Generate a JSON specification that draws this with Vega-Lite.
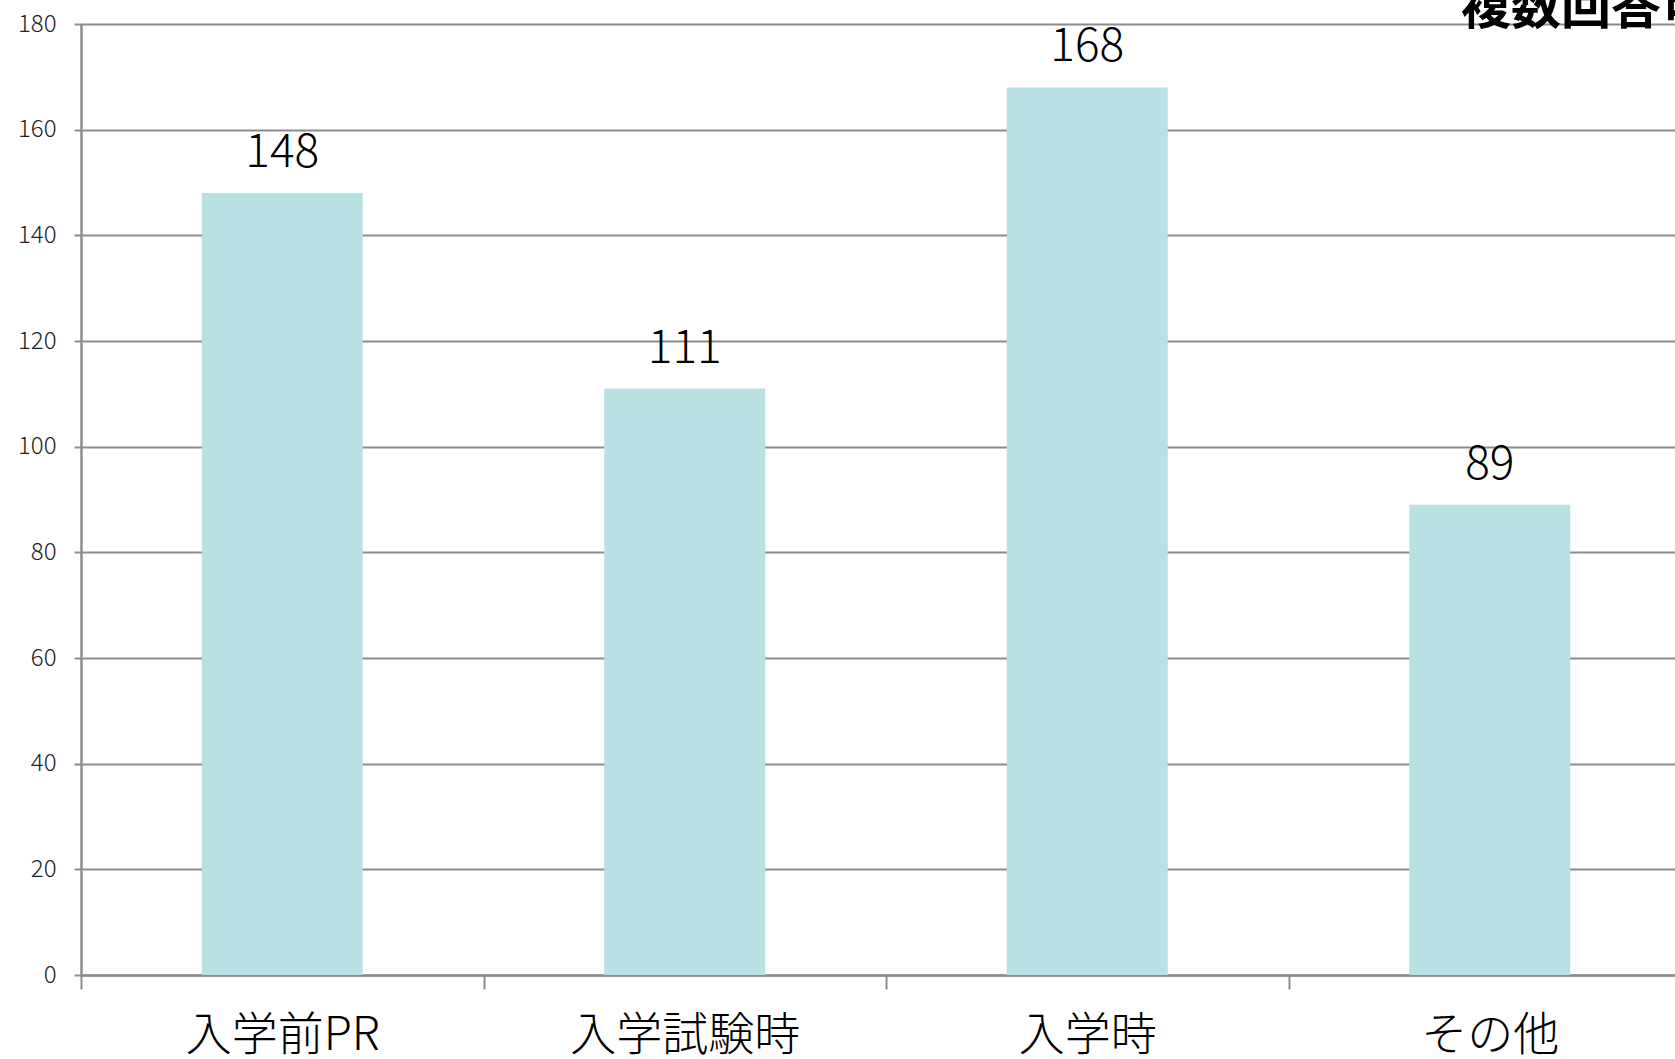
{
  "$schema": "https://vega.github.io/schema/vega-lite/v6.json",
  "autosize": {"type": "none"},
  "padding": {"left": 81, "top": 24, "right": 0, "bottom": 84},
  "width": 1594,
  "height": 951,
  "background": "white",
  "config": {
    "view": {"stroke": null},
    "font": "Noto Sans CJK JP"
  },
  "data": {
    "values": [
      {"category": "入学前PR", "count": 148},
      {"category": "入学試験時", "count": 111},
      {"category": "入学時", "count": 168},
      {"category": "その他", "count": 89}
    ]
  },
  "encoding": {
    "x": {
      "field": "category",
      "type": "nominal",
      "sort": null,
      "scale": {"paddingInner": 0, "paddingOuter": 0, "range": [0, 1610]},
      "axis": {
        "title": null,
        "tickBand": "extent",
        "tickSize": 14,
        "tickWidth": 2,
        "tickColor": "#8c8c8c",
        "domainColor": "#8c8c8c",
        "domainWidth": 2.5,
        "labelFontSize": 46,
        "labelFont": "Noto Sans CJK JP",
        "labelFontWeight": 300,
        "labelColor": "#000000",
        "labelPadding": 24,
        "labelLimit": 0,
        "labelAngle": 0,
        "grid": false
      }
    },
    "y": {
      "field": "count",
      "type": "quantitative",
      "scale": {"domain": [0, 180], "nice": false},
      "axis": {
        "title": null,
        "values": [0, 20, 40, 60, 80, 100, 120, 140, 160, 180],
        "tickSize": 7,
        "tickWidth": 2,
        "tickColor": "#8c8c8c",
        "domainColor": "#8c8c8c",
        "domainWidth": 2.5,
        "grid": true,
        "gridColor": "#8c8c8c",
        "gridWidth": 2,
        "gridOpacity": 1,
        "labelFontSize": 24,
        "labelFont": "Noto Sans CJK JP",
        "labelFontWeight": 300,
        "labelColor": "#222222",
        "labelPadding": 18
      }
    }
  },
  "layer": [
    {
      "mark": {"type": "bar", "width": {"band": 0.4}, "color": "#B9E0E3"}
    },
    {
      "mark": {
        "type": "text",
        "baseline": "alphabetic",
        "dy": -26,
        "fontSize": 46,
        "fontWeight": 300,
        "font": "Noto Sans CJK JP",
        "color": "#000000"
      },
      "encoding": {"text": {"field": "count", "type": "quantitative"}}
    },
    {
      "data": {"values": [{"note": "複数回答可", "category": "その他", "top": 180}]},
      "mark": {
        "type": "text",
        "align": "right",
        "baseline": "bottom",
        "dx": 20,
        "dy": 10,
        "fontSize": 50,
        "fontWeight": "bold",
        "font": "Noto Sans CJK JP",
        "color": "#000000"
      },
      "encoding": {
        "x": {"field": "category", "type": "nominal", "bandPosition": 1},
        "y": {"field": "top", "type": "quantitative"},
        "text": {"field": "note", "type": "nominal"}
      }
    }
  ]
}
